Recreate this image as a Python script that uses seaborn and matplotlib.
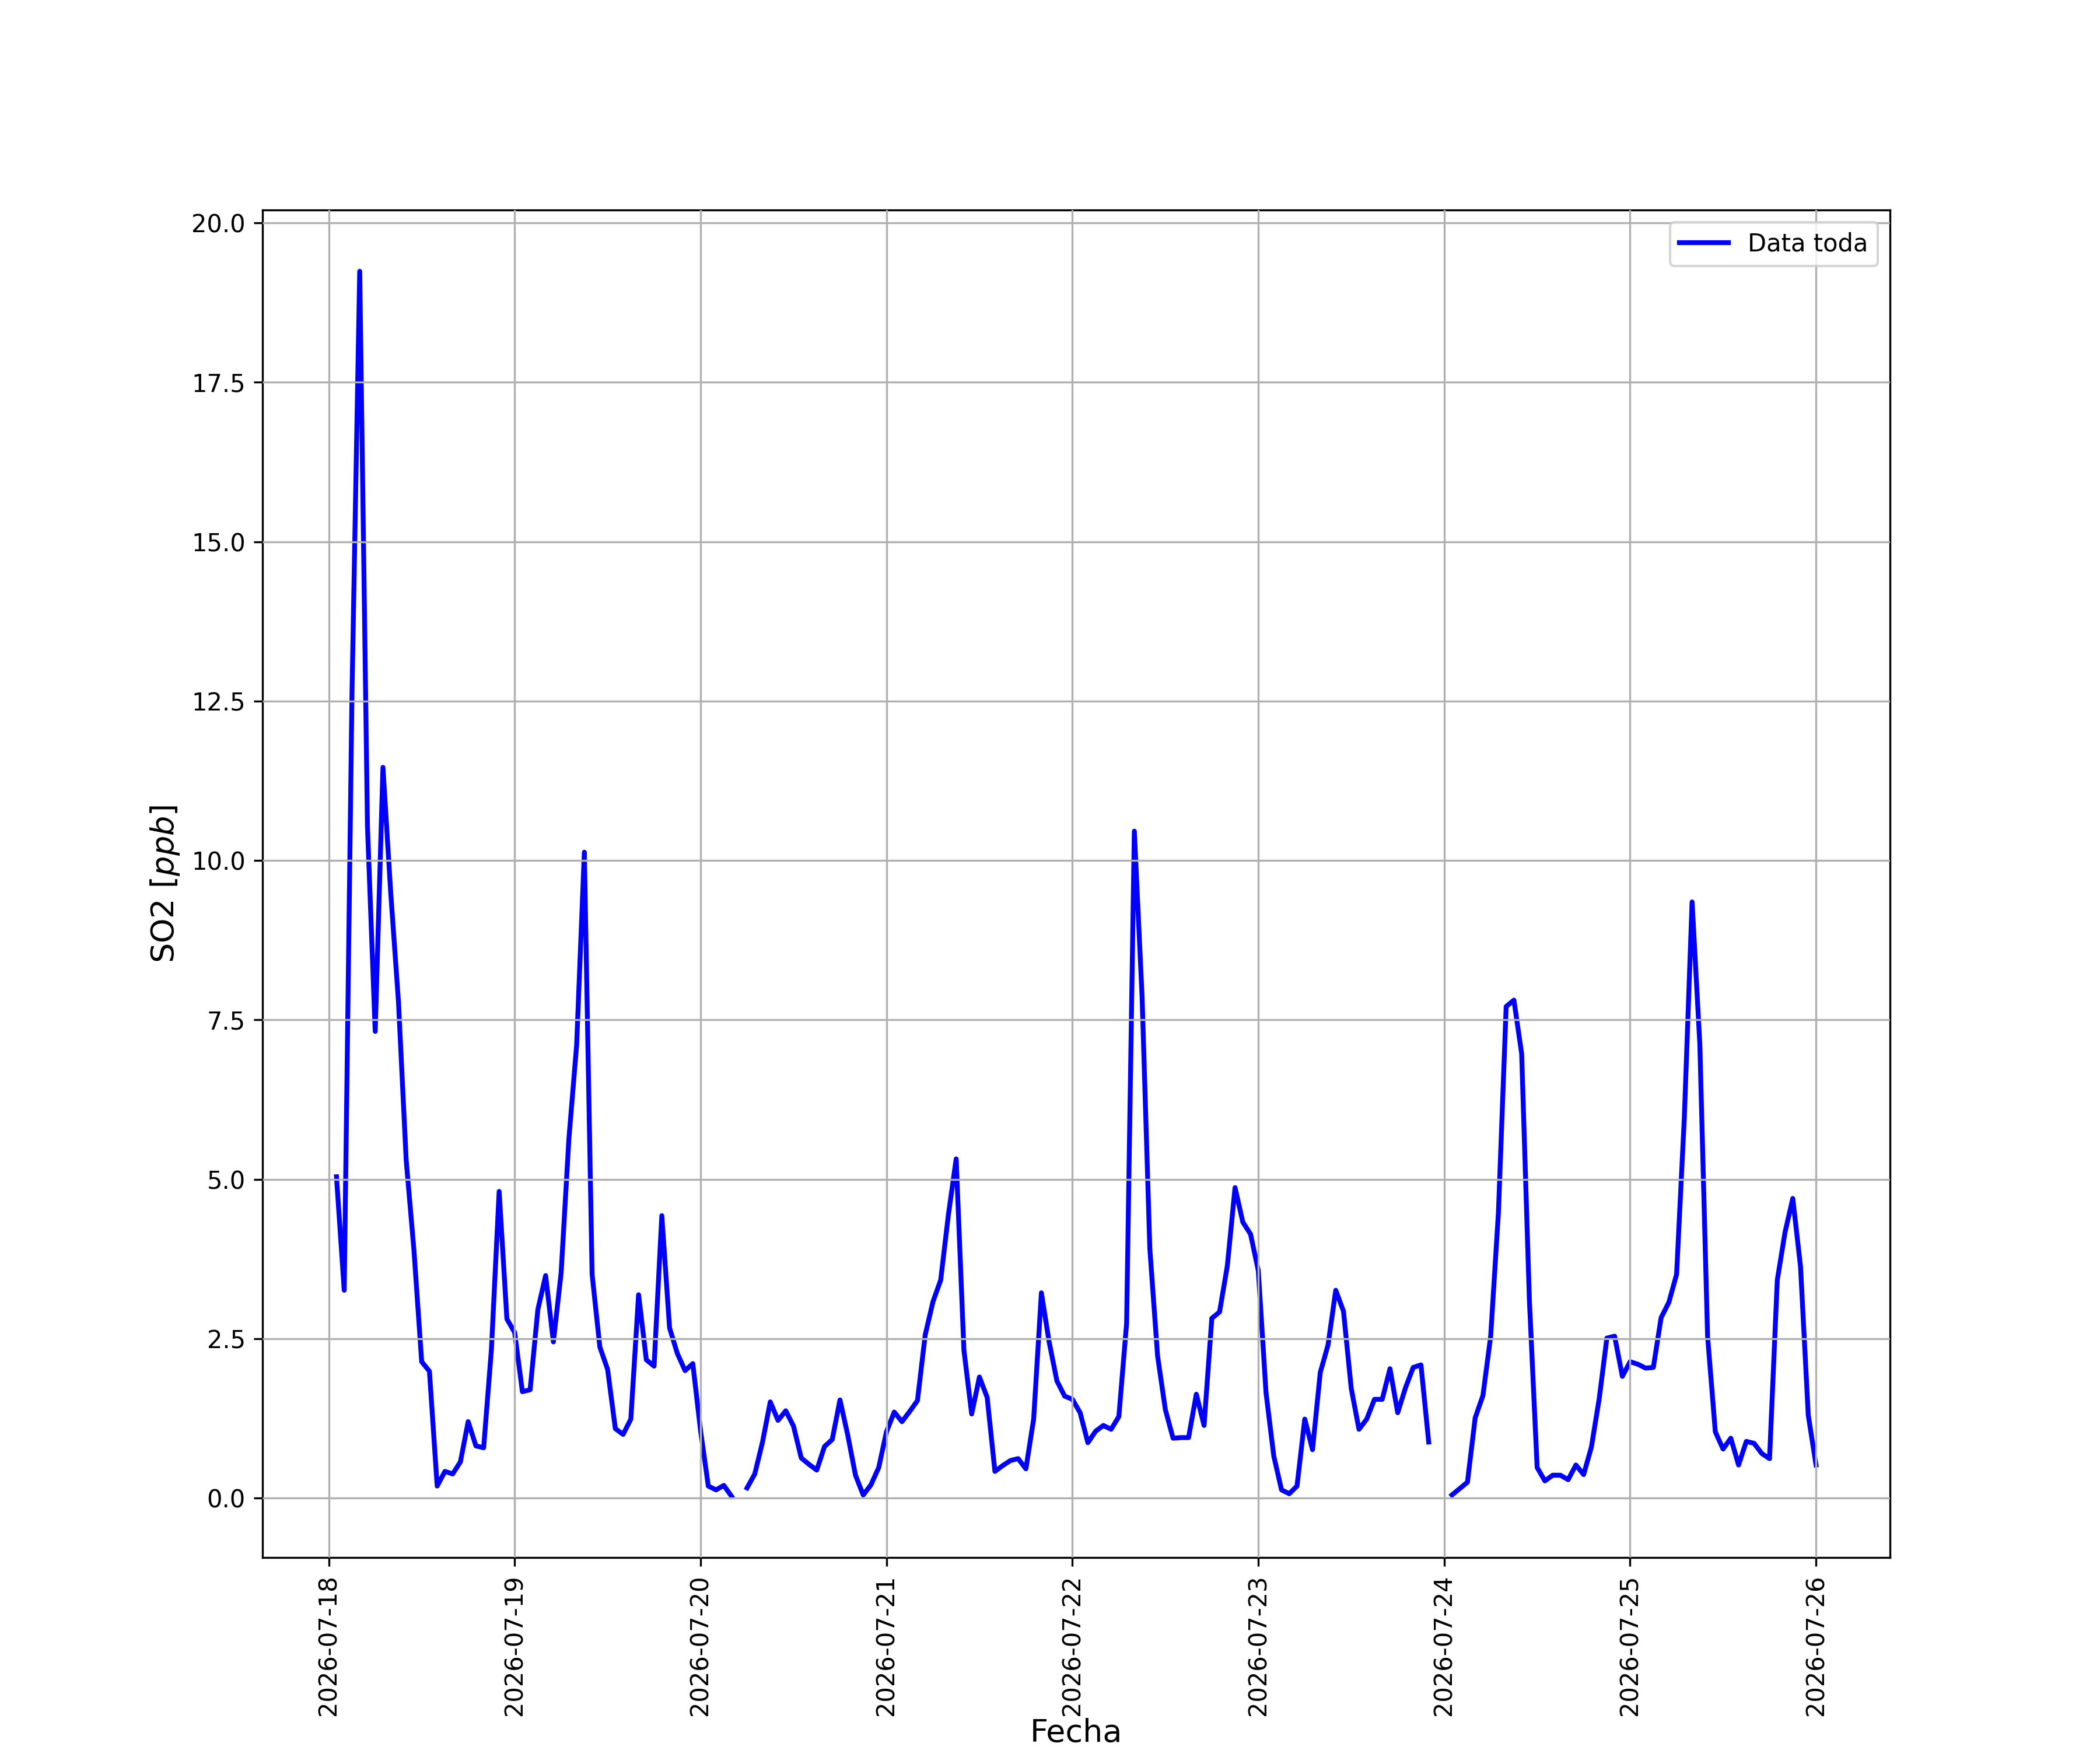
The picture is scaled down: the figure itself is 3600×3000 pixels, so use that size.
import numpy as np
import pandas as pd
import matplotlib
matplotlib.use("Agg")
import matplotlib.pyplot as plt
import matplotlib.dates as mdates
import seaborn as sns

# Datos horarios de SO2 [ppb], 2026-07-18 01:00 a 2026-07-26 00:00 (NaN = sin dato)
dia_18 = [5.04, 3.26, 12.6, 19.24, 10.54, 7.32, 11.46, 9.5, 7.79, 5.3, 3.89, 2.14,
          1.99, 0.19, 0.42, 0.38, 0.57, 1.20, 0.82, 0.79, 2.33, 4.81, 2.81]  # desde 01:00
dia_19 = [2.60, 1.67, 1.70, 2.96, 3.49, 2.45, 3.53, 5.63, 7.1, 10.13, 3.51, 2.37,
          2.02, 1.09, 1.00, 1.24, 3.19, 2.17, 2.07, 4.43, 2.67, 2.27, 2.00, 2.11]
dia_20 = [1.06, 0.19, 0.13, 0.20, 0.03, np.nan, 0.16, 0.38, 0.88, 1.51, 1.22, 1.37,
          1.13, 0.63, 0.53, 0.44, 0.81, 0.92, 1.54, 0.99, 0.36, 0.05, 0.21, 0.48]
dia_21 = [1.04, 1.35, 1.20, 1.36, 1.53, 2.56, 3.08, 3.42, 4.45, 5.32, 2.32, 1.32,
          1.90, 1.58, 0.42, 0.51, 0.59, 0.62, 0.46, 1.24, 3.22, 2.45, 1.84, 1.60]
dia_22 = [1.55, 1.34, 0.87, 1.05, 1.14, 1.08, 1.28, 2.74, 10.46, 7.86, 3.91, 2.23,
          1.39, 0.94, 0.95, 0.95, 1.63, 1.14, 2.82, 2.92, 3.64, 4.87, 4.33, 4.14]
dia_23 = [3.57, 1.65, 0.66, 0.13, 0.07, 0.19, 1.24, 0.76, 1.97, 2.40, 3.26, 2.93,
          1.72, 1.08, 1.24, 1.55, 1.55, 2.03, 1.34, 1.73, 2.05, 2.09, 0.88, np.nan]
dia_24 = [np.nan, 0.05, 0.15, 0.25, 1.26, 1.61, 2.54, 4.48, 7.71, 7.81, 6.97, 3.1,
          0.48, 0.27, 0.36, 0.36, 0.29, 0.52, 0.37, 0.80, 1.55, 2.51, 2.54, 1.91]
dia_25 = [2.14, 2.10, 2.04, 2.05, 2.83, 3.07, 3.51, 5.97, 9.35, 7.12, 2.54, 1.04,
          0.77, 0.94, 0.52, 0.89, 0.86, 0.70, 0.62, 3.42, 4.17, 4.70, 3.63, 1.30]
dia_26 = [0.52]  # 00:00

so2 = dia_18 + dia_19 + dia_20 + dia_21 + dia_22 + dia_23 + dia_24 + dia_25 + dia_26
fechas = pd.date_range("2026-07-18 01:00", "2026-07-26 00:00", freq="h")

df = pd.DataFrame({"fecha": fechas, "so2": so2})
# tramos continuos para que los huecos queden sin unir
df["tramo"] = df["so2"].isna().cumsum()
df = df.dropna(subset=["so2"])

fig, ax = plt.subplots(figsize=(12, 10), dpi=300)
sns.lineplot(data=df, x="fecha", y="so2", units="tramo", estimator=None,
             color="blue", linewidth=2, legend=False, ax=ax)

ax.legend([ax.lines[0]], ["Data toda"], loc="upper right")
ax.grid(True)
ax.set_axisbelow(False)
ax.xaxis.set_major_locator(mdates.DayLocator())
ax.xaxis.set_major_formatter(mdates.DateFormatter("%Y-%m-%d"))
plt.xticks(rotation=90)
ax.set_xlabel("Fecha", fontsize=13, labelpad=1)
ax.set_ylabel("SO2 [$ppb$]", fontsize=13)

fig.savefig("out.png", dpi=300)
